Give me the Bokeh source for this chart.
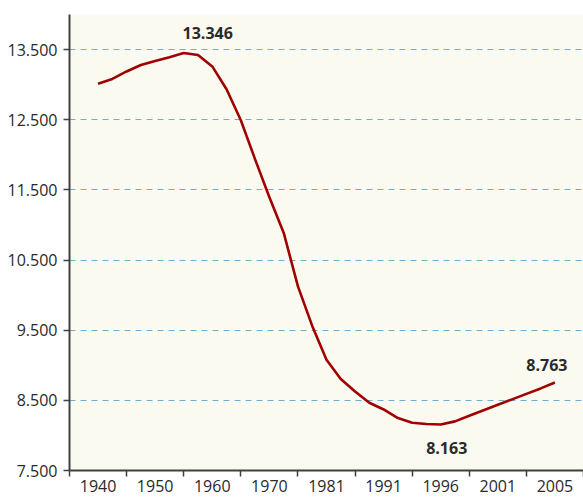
from bokeh.plotting import figure
from bokeh.models import FixedTicker
from bokeh.core.properties import value
from bokeh.embed import file_html
from bokeh.resources import INLINE

# category labels (one per category slot)
categories = ["1940", "1950", "1960", "1970", "1981", "1991", "1996", "2001", "2005"]
# series sampled 4 times per category slot (33 points)
population = [13013, 13082, 13188, 13280, 13337, 13391, 13450, 13422,
              13260, 12935, 12493, 11935, 11394, 10890, 10124, 9561,
              9080, 8805, 8625, 8465, 8370, 8248, 8181, 8162,
              8155, 8200, 8280, 8358, 8436, 8514, 8592, 8670, 8755]
steps_per_category = 4
y_ticks = [7500, 8500, 9500, 10500, 11500, 12500, 13500]
y_tick_labels = ["7.500", "8.500", "9.500", "10.500", "11.500", "12.500", "13.500"]
# annotated values: text, index into series
annot_text = ["13.346", "8.163", "8.763"]
annot_index = [6, 24, 32]

xs = [i / steps_per_category for i in range(len(population))]

p = figure(width=583, height=499, output_backend="svg", toolbar_location=None,
           x_range=(-0.5, len(categories) - 0.5), y_range=(7500, 14000),
           min_border_left=69, min_border_top=14, min_border_right=0, min_border_bottom=29)
p.background_fill_color = "#FAFAF0"
p.border_fill_color = "white"
p.outline_line_color = None

# grid
p.xgrid.visible = False
p.ygrid.ticker = FixedTicker(ticks=y_ticks[1:])
p.ygrid.grid_line_color = "#6EB0D2"
p.ygrid.grid_line_dash = "6 5"
p.ygrid.grid_line_width = 1.2

# x axis: labels at category centres, tick marks between categories
xa = p.xaxis[0]
xa.ticker = FixedTicker(ticks=list(range(len(categories))),
                        minor_ticks=[k + 0.5 for k in range(-1, len(categories))])
xa.major_label_overrides = {i: c for i, c in enumerate(categories)}
xa.major_tick_out = 0
xa.major_tick_in = 0
xa.minor_tick_out = 6
xa.minor_tick_in = 0
xa.minor_tick_line_color = "#404040"
xa.minor_tick_line_width = 1.5
xa.axis_line_color = "#404040"
xa.axis_line_width = 2
xa.major_label_text_font = "Open Sans"
xa.major_label_text_font_size = "16px"
xa.major_label_text_color = "#2a2a2a"
xa.major_label_standoff = 3

ya = p.yaxis[0]
ya.ticker = FixedTicker(ticks=y_ticks)
ya.major_label_overrides = {t: l for t, l in zip(y_ticks, y_tick_labels)}
ya.minor_tick_line_color = None
ya.major_tick_out = 6
ya.major_tick_in = 0
ya.major_tick_line_color = "#404040"
ya.major_tick_line_width = 1.5
ya.axis_line_color = "#404040"
ya.axis_line_width = 2
ya.major_label_text_font = "Open Sans"
ya.major_label_text_font_size = "16px"
ya.major_label_text_color = "#2a2a2a"
ya.major_label_standoff = 6

p.line(xs, population, line_color="#A00000", line_width=2.6, line_join="round")

# annotations
offsets_x = [24, 6, -8]
offsets_y = [-20, 23, -17]
for t, i, dx, dy in zip(annot_text, annot_index, offsets_x, offsets_y):
    p.text(x=[xs[i]], y=[population[i]], text=[t], x_offset=dx, y_offset=dy,
           text_font=value("Open Sans"), text_font_style="bold", text_font_size="16px",
           text_color="#2a2a2a", text_align="center", text_baseline="middle")

open("out.html", "w").write(file_html(p, INLINE))
